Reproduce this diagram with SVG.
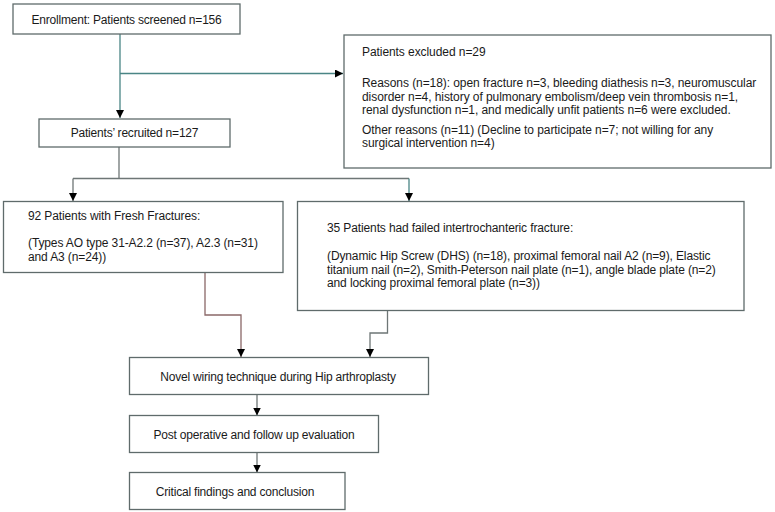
<svg xmlns="http://www.w3.org/2000/svg" width="775" height="512" viewBox="0 0 775 512">
<defs>
<style>
.box{fill:#fff;stroke:#5f6b6b;stroke-width:1.3}
.t{font-family:"Liberation Sans",Arial,sans-serif;font-size:12px;fill:#1a1a1a;letter-spacing:-0.2px}
.p{letter-spacing:-0.12px}
.x{letter-spacing:-0.07px}
.c{text-anchor:middle}
.teal{fill:none;stroke:#4a8585;stroke-width:1.3}
.gray{fill:none;stroke:#6e7676;stroke-width:1.3}
.brown{fill:none;stroke:#8a6868;stroke-width:1.3}
</style>
<marker id="ah" viewBox="0 0 10 10" refX="10" refY="5" markerWidth="8" markerHeight="8" markerUnits="userSpaceOnUse" orient="auto">
<path d="M0,0 L10,5 L0,10 Z" fill="#000"/>
</marker>
</defs>
<rect width="775" height="512" fill="#fff"/>
<g id="connectors">
<path class="teal" d="M120,34 V118" marker-end="url(#ah)"/>
<path class="teal" d="M120,73.5 H343" marker-end="url(#ah)"/>
<path class="gray" d="M119,147 V178.5"/>
<path class="gray" d="M73,178.5 H409"/>
<path class="gray" d="M73,178.5 V201" marker-end="url(#ah)"/>
<path class="teal" d="M409,178.5 V201" marker-end="url(#ah)"/>
<path class="brown" d="M205,273 V315 H241 V357" marker-end="url(#ah)"/>
<path class="gray" d="M387.5,311 V333 H370 V357" marker-end="url(#ah)"/>
<path class="gray" d="M257,394.5 V415.5" marker-end="url(#ah)"/>
<path class="gray" d="M257,453 V472.5" marker-end="url(#ah)"/>
</g>
<g id="enrollment">
<rect class="box" x="13" y="4" width="227" height="30"/>
<text class="t c" x="126.5" y="24">Enrollment: Patients screened n=156</text>
</g>
<g id="excluded">
<rect class="box" x="344" y="35" width="427" height="133"/>
<text class="t x" x="362" y="56">Patients excluded n=29</text>
<text class="t x" x="362" y="87">Reasons (n=18): open fracture n=3, bleeding diathesis n=3, neuromuscular</text>
<text class="t x" x="362" y="100.5">disorder n=4, history of pulmonary embolism/deep vein thrombosis n=1,</text>
<text class="t x" x="362" y="114">renal dysfunction n=1, and medically unfit patients n=6 were excluded.</text>
<text class="t x" x="362" y="133.5">Other reasons (n=11) (Decline to participate n=7; not willing for any</text>
<text class="t x" x="362" y="147">surgical intervention n=4)</text>
</g>
<g id="recruited">
<rect class="box" x="39" y="119" width="191" height="28"/>
<text class="t c" x="134.5" y="137">Patients’ recruited n=127</text>
</g>
<g id="fresh">
<rect class="box" x="3.5" y="201.5" width="279.5" height="71"/>
<text class="t p" x="28" y="220">92 Patients with Fresh Fractures:</text>
<text class="t p" x="28" y="247">(Types AO type 31-A2.2 (n=37), A2.3 (n=31)</text>
<text class="t p" x="28" y="260.5">and A3 (n=24))</text>
</g>
<g id="failed">
<rect class="box" x="297.5" y="201.5" width="446.5" height="109"/>
<text class="t p" x="327" y="232">35 Patients had failed intertrochanteric fracture:</text>
<text class="t p" x="327" y="260">(Dynamic Hip Screw (DHS) (n=18), proximal femoral nail A2 (n=9), Elastic</text>
<text class="t p" x="327" y="273.5">titanium nail (n=2), Smith-Peterson nail plate (n=1), angle blade plate (n=2)</text>
<text class="t p" x="327" y="287">and locking proximal femoral plate (n=3))</text>
</g>
<g id="novel">
<rect class="box" x="129.5" y="357.5" width="299" height="37"/>
<text class="t c" x="278" y="381">Novel wiring technique during Hip arthroplasty</text>
</g>
<g id="postop">
<rect class="box" x="129.5" y="415.5" width="249" height="37"/>
<text class="t c" x="254" y="439">Post operative and follow up evaluation</text>
</g>
<g id="critical">
<rect class="box" x="129.5" y="472.5" width="215.5" height="37"/>
<text class="t c" x="235" y="496">Critical findings and conclusion</text>
</g>
</svg>
